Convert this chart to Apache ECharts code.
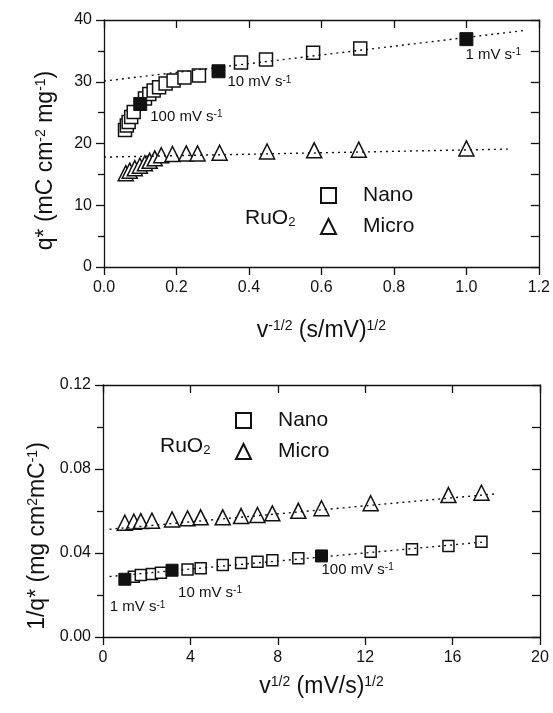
<!DOCTYPE html>
<html>
<head>
<meta charset="utf-8">
<script src="https://cdn.jsdelivr.net/npm/echarts@6/dist/echarts.min.js"></script>
<style>
  html, body { margin: 0; padding: 0; background: #fff; }
  #chart { width: 553px; height: 713px; }
</style>
</head>
<body>
<div id="chart"></div>
<script>
// ---------- Upper panel: q* against v^-1/2 ----------
const topNanoX = [0.058, 0.063, 0.068, 0.075, 0.082, 0.113, 0.125, 0.137, 0.152, 0.170, 0.192, 0.222, 0.262, 0.378, 0.447, 0.577, 0.707];
const topNanoQ = [22.2, 22.9, 23.5, 24.3, 25.1, 27.3, 28.0, 28.6, 29.1, 29.7, 30.2, 30.7, 31.0, 33.1, 33.6, 34.7, 35.4];
// filled squares at the labelled scan rates
const topMarkX = [0.100, 0.316, 1.000];
const topMarkQ = [26.4, 31.7, 36.9];
const topMarkRate = ['100', '10', '1'];
const topMicroX = [0.060, 0.071, 0.085, 0.099, 0.113, 0.126, 0.140, 0.158, 0.189, 0.227, 0.258, 0.319, 0.450, 0.580, 0.703, 1.000];
const topMicroQ = [15.2, 15.6, 16.0, 16.4, 16.8, 17.2, 17.6, 18.1, 18.3, 18.4, 18.4, 18.5, 18.7, 18.9, 19.0, 19.2];
// linear fits (end points)
const topNanoFit = [[0, 30.1], [1.16, 38.3]];
const topMicroFit = [[0, 17.8], [1.12, 19.1]];
const topXTicks = [0, 1.2, 0.2];
const topYTicks = [0, 40, 10];

// ---------- Lower panel: 1/q* against v^1/2 ----------
const botNanoX = [1.41, 1.73, 2.24, 2.65, 3.87, 4.47, 5.48, 6.32, 7.07, 7.75, 8.94, 12.25, 14.14, 15.81, 17.32];
const botNanoY = [0.0287, 0.0295, 0.0300, 0.0306, 0.0322, 0.0327, 0.0343, 0.0352, 0.0358, 0.0366, 0.0375, 0.0406, 0.0418, 0.0433, 0.0454];
const botMarkX = [1.00, 3.16, 10.00];
const botMarkY = [0.0275, 0.0318, 0.0386];
const botMarkRate = ['1', '10', '100'];
const botMicroX = [1.00, 1.41, 1.73, 2.24, 3.16, 3.87, 4.47, 5.48, 6.32, 7.07, 7.75, 8.94, 10.00, 12.25, 15.81, 17.32];
const botMicroY = [0.0544, 0.0549, 0.0552, 0.0554, 0.0560, 0.0565, 0.0570, 0.0570, 0.0576, 0.0581, 0.0589, 0.0601, 0.0613, 0.0637, 0.0676, 0.0687];
const botNanoFit = [[0.3, 0.0288], [17.5, 0.0453]];
const botMicroFit = [[0.3, 0.0513], [17.9, 0.0681]];
const botXTicks = [0, 20, 4];
const botYTicks = [0, 0.12, 0.04];

const seriesNames = ['Nano', 'Micro'];

// ---------- styling ----------
const INK = '#111';
const FONT = '"Liberation Sans", Arial, Helvetica, sans-serif';
const openItem = { color: '#fff', borderColor: INK, borderWidth: 1.5, opacity: 1 };
const fitLine = { color: INK, width: 1.4, type: [2, 4], opacity: 1 };
// label anchors relative to the filled markers
const topMarkOffset = [[10, 13], [9, 11], [-1, 16]];
const botMarkOffset = [[-15, 28], [6, 23], [0, 14]];

const titleRich = {
  i: { fontSize: 23, lineHeight: 23, fontFamily: FONT, color: INK, verticalAlign: 'bottom', padding: [8, 0, 0, 0] },
  s: { fontSize: 14, lineHeight: 14, fontFamily: FONT, color: INK, verticalAlign: 'top' }
};
const rateRich = {
  t: { fontSize: 15, lineHeight: 15, fontFamily: FONT, color: INK, verticalAlign: 'bottom', padding: [5, 0, 0, 0] },
  s: { fontSize: 10, lineHeight: 10, fontFamily: FONT, color: INK, verticalAlign: 'top' }
};

function pairs(xs, ys) { return xs.map((x, i) => [x, ys[i]]); }

function bottomAxis(grid, ticks, digits, name, gap) {
  return {
    type: 'value', gridIndex: grid, position: 'bottom',
    min: ticks[0], max: ticks[1], interval: ticks[2],
    axisLine: { show: true, onZero: false, lineStyle: { color: INK, width: 1.3 } },
    axisTick: { show: true, inside: false, length: 8, lineStyle: { color: INK, width: 1.3 } },
    axisLabel: { show: true, margin: 13, fontSize: 16, fontFamily: FONT, color: INK,
      formatter: v => v.toFixed(digits) },
    splitLine: { show: false },
    name: name, nameLocation: 'middle', nameGap: gap,
    nameTextStyle: { rich: titleRich }
  };
}
function topAxis(grid, ticks) {
  return {
    type: 'value', gridIndex: grid, position: 'top',
    min: ticks[0], max: ticks[1], interval: ticks[2],
    axisLine: { show: true, onZero: false, lineStyle: { color: INK, width: 1.3 } },
    axisTick: { show: true, inside: true, length: 8, lineStyle: { color: INK, width: 1.3 } },
    axisLabel: { show: false }, splitLine: { show: false }
  };
}
function leftAxis(grid, ticks, digits, name, gap, shift) {
  return {
    type: 'value', gridIndex: grid, position: 'left',
    min: ticks[0], max: ticks[1], interval: ticks[2],
    axisLine: { show: true, onZero: false, lineStyle: { color: INK, width: 1.3 } },
    axisTick: { show: true, inside: false, length: 8, lineStyle: { color: INK, width: 1.3 } },
    minorTick: { show: true, splitNumber: 2, length: 6, lineStyle: { color: INK, width: 1.3 } },
    axisLabel: { show: true, margin: 12, fontSize: 16, fontFamily: FONT, color: INK,
      formatter: v => v.toFixed(digits) },
    splitLine: { show: false }, minorSplitLine: { show: false },
    name: name, nameLocation: 'middle', nameGap: gap,
    nameTextStyle: { rich: titleRich, padding: [0, shift, 0, 0] }
  };
}
function rightAxis(grid, ticks) {
  return {
    type: 'value', gridIndex: grid, position: 'right',
    min: ticks[0], max: ticks[1], interval: ticks[2],
    axisLine: { show: true, onZero: false, lineStyle: { color: INK, width: 1.3 } },
    axisTick: { show: true, inside: true, length: 8, lineStyle: { color: INK, width: 1.3 } },
    minorTick: { show: true, splitNumber: 2, length: 8, lineStyle: { color: INK, width: 1.3 } },
    axisLabel: { show: false }, splitLine: { show: false }, minorSplitLine: { show: false }
  };
}

function openSeries(name, xi, yi, xs, ys, symbol, size) {
  return {
    type: 'scatter', name: name, xAxisIndex: xi, yAxisIndex: yi,
    symbol: symbol, symbolSize: size, itemStyle: openItem,
    data: pairs(xs, ys), z: 2, silent: true
  };
}
function markSeries(xi, yi, xs, ys, rates, offsets, size) {
  return {
    type: 'scatter', name: 'marked', xAxisIndex: xi, yAxisIndex: yi,
    symbol: 'rect', symbolSize: size,
    itemStyle: { color: INK, borderColor: INK, borderWidth: 1, opacity: 1 },
    data: xs.map((x, i) => ({
      value: [x, ys[i]],
      label: { offset: offsets[i], formatter: '{t|' + rates[i] + ' mV s}{s|-1}' }
    })),
    label: { show: true, position: 'inside', align: 'left', verticalAlign: 'middle', opacity: 1, rich: rateRich },
    z: 3, silent: true
  };
}
function fitSeries(xi, yi, pts) {
  return {
    type: 'line', name: 'fit', xAxisIndex: xi, yAxisIndex: yi,
    data: pts, showSymbol: false, lineStyle: fitLine, z: 4, silent: true
  };
}

const legendBase = {
  data: seriesNames, orient: 'vertical', selectedMode: false, padding: 0,
  itemWidth: 15, itemHeight: 15, itemGap: 10,
  textStyle: { fontSize: 21, fontFamily: FONT, color: INK, padding: [0, 0, 0, 22] }
};

const subRich = {
  a: { fontSize: 21, lineHeight: 21, fontFamily: FONT, fill: INK, verticalAlign: 'top' },
  b: { fontSize: 13, lineHeight: 13, fontFamily: FONT, fill: INK, verticalAlign: 'bottom', padding: [15, 0, 0, 0] }
};

const option = {
  backgroundColor: '#fff',
  animation: false,
  grid: [
    { left: 104, right: 12, top: 20, height: 247 },
    { left: 103, right: 13, top: 385, height: 252 }
  ],
  xAxis: [
    bottomAxis(0, topXTicks, 1, '{i|v}{s|-1/2}{i| (s/mV)}{s|1/2}', 52),
    topAxis(0, topXTicks),
    bottomAxis(1, botXTicks, 0, '{i|v}{s|1/2}{i| (mV/s)}{s|1/2}', 38),
    topAxis(1, botXTicks)
  ],
  yAxis: [
    leftAxis(0, topYTicks, 0, '{i|q* (mC cm}{s|-2}{i| mg}{s|-1}{i|)}', 47, 34),
    rightAxis(0, topYTicks),
    leftAxis(1, botYTicks, 2, '{i|1/q* (mg cm}{s|2}{i|mC}{s|-1}{i|)}', 51, 50),
    rightAxis(1, botYTicks)
  ],
  legend: [
    Object.assign({}, legendBase, { left: 320, top: 185 }),
    Object.assign({}, legendBase, { left: 235, top: 410 })
  ],
  graphic: [
    { type: 'text', left: 245, top: 201, style: { text: '{a|RuO}{b|2}', rich: subRich } },
    { type: 'text', left: 160, top: 429, style: { text: '{a|RuO}{b|2}', rich: subRich } }
  ],
  series: [
    openSeries(seriesNames[0], 0, 0, topNanoX, topNanoQ, 'rect', 13),
    openSeries(seriesNames[1], 0, 0, topMicroX, topMicroQ, 'triangle', 15),
    markSeries(0, 0, topMarkX, topMarkQ, topMarkRate, topMarkOffset, 13),
    fitSeries(0, 0, topNanoFit),
    fitSeries(0, 0, topMicroFit),
    openSeries(seriesNames[0], 2, 2, botNanoX, botNanoY, 'rect', 11),
    openSeries(seriesNames[1], 2, 2, botMicroX, botMicroY, 'triangle', 15),
    markSeries(2, 2, botMarkX, botMarkY, botMarkRate, botMarkOffset, 12),
    fitSeries(2, 2, botNanoFit),
    fitSeries(2, 2, botMicroFit)
  ]
};

const chart = echarts.init(document.getElementById('chart'), null, { renderer: 'canvas' });
chart.setOption(option);
</script>
</body>
</html>
